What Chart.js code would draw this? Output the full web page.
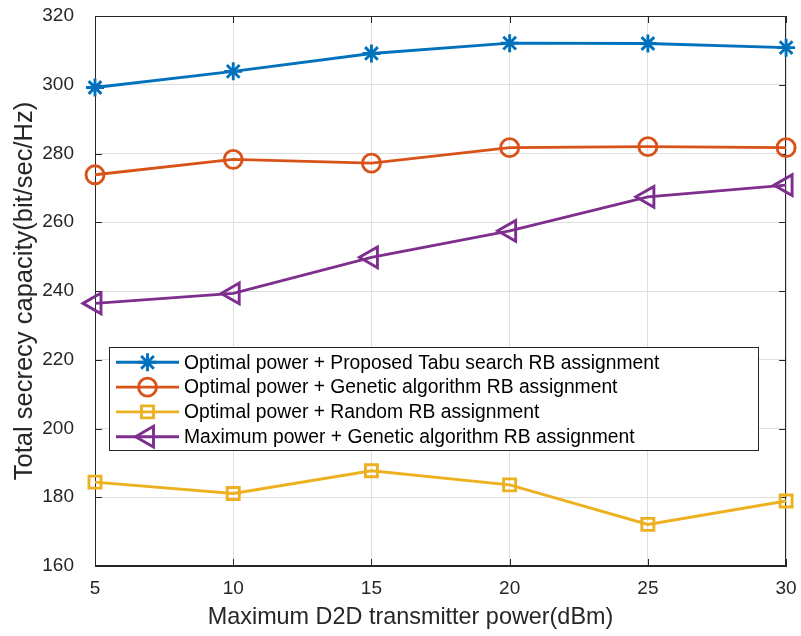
<!DOCTYPE html>
<html><head><meta charset="utf-8">
<script src="https://cdn.jsdelivr.net/npm/chart.js@4.4.0/dist/chart.umd.min.js"></script>
<style>html,body{margin:0;padding:0;background:#fff;overflow:hidden}#wrap{width:801px;height:636px;position:relative}</style>
</head><body><div id="wrap"><canvas id="c" width="801" height="636"></canvas></div>
<script>
// ---- data ----
const powerDbm = [5, 10, 15, 20, 25, 30];
const tabuOptimal = [299.2, 303.9, 309.1, 312.1, 312.0, 310.8];
const geneticOptimal = [273.8, 278.3, 277.2, 281.7, 282.0, 281.7];
const randomOptimal = [184.4, 181.1, 187.7, 183.6, 172.1, 178.9];
const geneticMaximum = [236.4, 239.3, 249.8, 257.5, 267.4, 270.8];
const seriesNames = [
  'Optimal power + Proposed Tabu search RB assignment',
  'Optimal power + Genetic algorithm RB assignment',
  'Optimal power + Random RB assignment',
  'Maximum power + Genetic algorithm RB assignment'
];
const xTickValues = [5, 10, 15, 20, 25, 30];
const yTickValues = [160, 180, 200, 220, 240, 260, 280, 300, 320];
const xTitle = 'Maximum D2D transmitter power(dBm)';
const yTitle = 'Total secrecy capacity(bit/sec/Hz)';

// ---- styling ----
const AX = '#262626';
const GRID = '#dfdfdf';
const FONT = '"Liberation Sans", Arial, Helvetica, sans-serif';
const colors = ['#0072BD', '#D95319', '#EDB120', '#7E2F8E'];
const styles = [
  {pointStyle: 'star', radius: 9, rot: 0},
  {pointStyle: 'circle', radius: 9, rot: 0},
  {pointStyle: 'rect', radius: 8.5, rot: 0},
  {pointStyle: 'triangle', radius: 12, rot: -90}
];
const seriesValues = [tabuOptimal, geneticOptimal, randomOptimal, geneticMaximum];
const LW = 2.9;

const datasets = seriesValues.map((vals, i) => ({
  label: seriesNames[i],
  data: powerDbm.map((x, j) => ({x: x, y: vals[j]})),
  borderColor: colors[i],
  backgroundColor: 'rgba(0,0,0,0)',
  borderWidth: LW,
  pointStyle: styles[i].pointStyle,
  pointRadius: styles[i].radius,
  pointHoverRadius: styles[i].radius,
  pointRotation: styles[i].rot,
  pointBorderWidth: LW,
  pointBorderColor: colors[i],
  pointBackgroundColor: 'rgba(0,0,0,0)',
  tension: 0,
  clip: false
}));

const framePlugin = {
  id: 'frame',
  beforeDatasetsDraw(chart) {
    const {ctx, chartArea: a, scales} = chart;
    ctx.save();
    ctx.strokeStyle = AX;
    ctx.lineWidth = 1;
    ctx.strokeRect(Math.round(a.left) + 0.5, Math.round(a.top) + 0.5, Math.round(a.right - a.left) - 1, Math.round(a.bottom - a.top) - 1);
    const tl = 7;
    ctx.beginPath();
    xTickValues.forEach(v => {
      const px = Math.round(scales.x.getPixelForValue(v)) + 0.5;
      ctx.moveTo(px, a.bottom); ctx.lineTo(px, a.bottom - tl);
      ctx.moveTo(px, a.top); ctx.lineTo(px, a.top + tl);
    });
    yTickValues.forEach(v => {
      const py = Math.round(scales.y.getPixelForValue(v)) + 0.5;
      ctx.moveTo(a.left, py); ctx.lineTo(a.left + tl, py);
      ctx.moveTo(a.right, py); ctx.lineTo(a.right - tl, py);
    });
    ctx.stroke();
    // x axis title (offset as in the reference)
    ctx.fillStyle = AX;
    ctx.font = '23.4px ' + FONT;
    ctx.textAlign = 'center';
    ctx.textBaseline = 'middle';
    ctx.fillText(xTitle, 410.5, 618);
    ctx.restore();
  }
};

const legendPlugin = {
  id: 'matLegend',
  afterDraw(chart) {
    const ctx = chart.ctx;
    const x0 = 109.5, y0 = 347.5, w = 649, h = 103;
    ctx.save();
    ctx.fillStyle = '#ffffff';
    ctx.fillRect(x0, y0, w, h);
    ctx.strokeStyle = AX;
    ctx.lineWidth = 1;
    ctx.strokeRect(x0, y0, w, h);
    chart.data.datasets.forEach((ds, i) => {
      const cy = 362.3 + i * 24.8;
      ctx.strokeStyle = ds.borderColor;
      ctx.lineWidth = ds.borderWidth;
      ctx.beginPath();
      ctx.moveTo(116, cy); ctx.lineTo(179, cy);
      ctx.stroke();
      ctx.fillStyle = 'rgba(0,0,0,0)';
      Chart.helpers.drawPoint(ctx, {
        pointStyle: ds.pointStyle, rotation: ds.pointRotation, radius: ds.pointRadius,
        borderWidth: ds.pointBorderWidth
      }, 147.5, cy);
      ctx.fillStyle = '#000000';
      ctx.font = '19.3px ' + FONT;
      ctx.textBaseline = 'middle';
      ctx.textAlign = 'left';
      ctx.fillText(ds.label, 184, cy + 1);
    });
    ctx.restore();
  }
};

new Chart(document.getElementById('c'), {
  type: 'line',
  data: {datasets: datasets},
  options: {
    responsive: false,
    devicePixelRatio: 1,
    animation: false,
    events: [],
    layout: {padding: {top: 16, right: 12, left: 0, bottom: 0}},
    plugins: {legend: {display: false}, tooltip: {enabled: false}},
    scales: {
      x: {
        type: 'linear', min: 5, max: 30,
        afterBuildTicks: s => { s.ticks = xTickValues.map(v => ({value: v})); },
        afterFit: s => { s.height = 70; s.paddingLeft = 0; s.paddingRight = 0; },
        grid: {color: GRID, lineWidth: 1, drawTicks: false},
        border: {display: true, color: AX, width: 1},
        ticks: {color: AX, padding: 11, font: {family: FONT, size: 19}, maxRotation: 0},
        title: {display: false, text: xTitle}
      },
      y: {
        type: 'linear', min: 160, max: 320,
        afterBuildTicks: s => { s.ticks = yTickValues.map(v => ({value: v})); },
        afterFit: s => { s.width = 95; s.paddingTop = 0; s.paddingBottom = 0; },
        grid: {color: GRID, lineWidth: 1, drawTicks: false},
        border: {display: true, color: AX, width: 1},
        ticks: {color: AX, padding: 21, font: {family: FONT, size: 19}},
        title: {display: true, text: yTitle, color: AX, font: {family: FONT, size: 25.5}, padding: {top: 10, bottom: 0}}
      }
    }
  },
  plugins: [framePlugin, legendPlugin]
});
</script></body></html>
